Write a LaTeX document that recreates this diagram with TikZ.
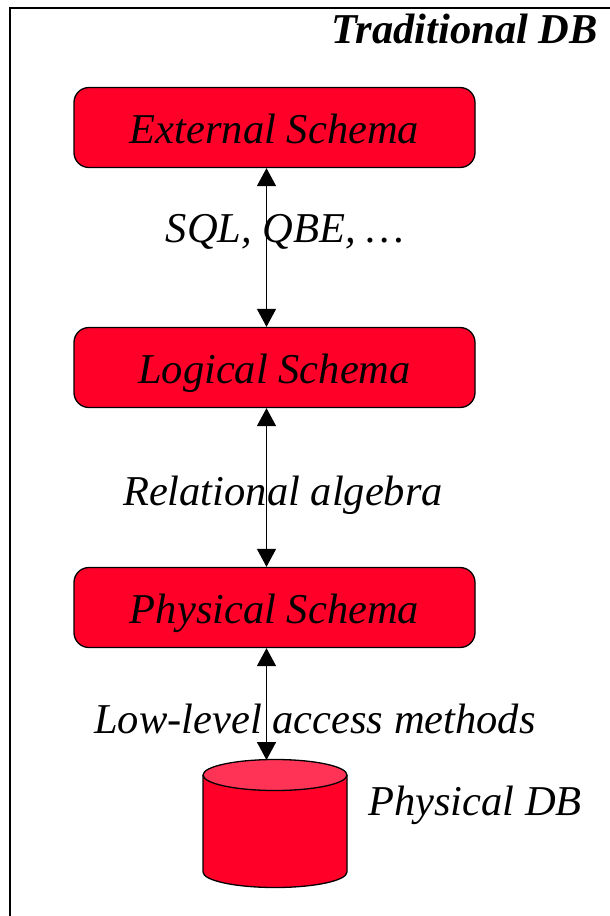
\documentclass[tikz,border=0pt]{standalone}
\usepackage{fontspec}
\setmainfont{Liberation Serif}
\usetikzlibrary{arrows.meta}
\definecolor{boxred}{RGB}{255,0,41}
\definecolor{capred}{RGB}{255,51,85}
\begin{document}
\begin{tikzpicture}[x=1pt,y=-1pt,
  bigtext/.style={font=\fontsize{42.5}{50}\selectfont\itshape},
  schema/.style={bigtext, draw=black, line width=1.3pt, fill=boxred,
    rounded corners=15pt, minimum width=401pt, minimum height=80pt,
    inner sep=0pt, text height=34pt, text depth=2pt},
  lbl/.style={bigtext, inner sep=0pt, anchor=base},
  tip/.style={Triangle[width=19pt,length=18pt]},
  link/.style={line width=1.5pt, {Triangle[width=19pt,length=18pt]}-{Triangle[width=19pt,length=18pt]}}]
\useasboundingbox (0,0) rectangle (610,916);
\clip (0,0) rectangle (610,916);

% outer frame (runs off the right and bottom edges)
\draw[line width=2pt] (9.5,7.5) rectangle (650,960);

% title
\node[lbl, anchor=base east, font=\fontsize{42.5}{50}\selectfont\bfseries\itshape] (title) at (598,43) {Traditional DB};

% schema levels
\node[schema] (ext) at (274.5,127.5) {External Schema};
\node[schema] (log) at (274.5,367.5) {Logical Schema};
\node[schema] (phy) at (274.5,607.5) {Physical Schema};

% database cylinder
\filldraw[fill=boxred, draw=black, line width=1.3pt]
  (203,775) -- (203,872) arc[start angle=180, end angle=360, x radius=72pt, y radius=15.5pt] -- (347,775);
\filldraw[fill=capred, draw=black, line width=1.3pt]
  (275,775) ellipse[x radius=72pt, y radius=15.5pt];
\coordinate (dbtop) at (266.5,760);

% interfaces between levels
\draw[link] ([xshift=-8pt]ext.south) -- ([xshift=-8pt]log.north);
\draw[link] ([xshift=-8pt]log.south) -- ([xshift=-8pt]phy.north);
\draw[link] ([xshift=-8pt]phy.south) -- (dbtop);

% labels
\node[lbl] (sql) at (285,242) {SQL, QBE, …};
\node[lbl] (ra) at (283,505) {Relational algebra};
\node[lbl] (llam) at (315,733) {Low-level access methods};
\node[lbl] (pdb) at (475,815) {Physical DB};
\end{tikzpicture}
\end{document}
